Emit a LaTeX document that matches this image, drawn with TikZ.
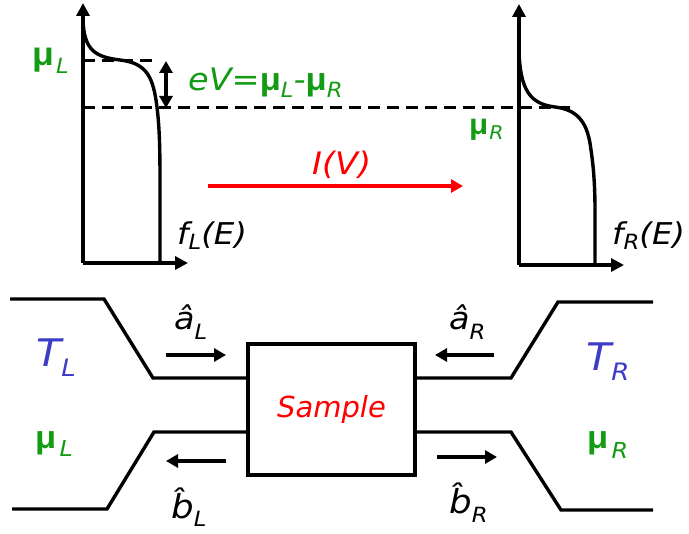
\documentclass[tikz,border=0pt]{standalone}
\usepackage{fontspec}
\setmainfont{DejaVu Sans}
\newfontfamily\mufont{Liberation Sans}
\usetikzlibrary{arrows.meta}
\definecolor{grn}{RGB}{20,155,20}
\definecolor{blu}{RGB}{60,60,200}
\newcommand\fs[1]{\fontsize{#1}{#1}\selectfont}
\newcommand\mub[1]{{\mufont\bfseries\fs{#1}μ}}
\newcommand\sbs[3]{\raisebox{-#1pt}{\fs{#2}\itshape #3}}
\begin{document}
\begin{tikzpicture}[x=1pt,y=-1pt,
  ax/.style={line width=3.4pt,-{Triangle[length=13pt,width=13pt]}},
  fermi/.style={line width=3.4pt},
  dsh/.style={line width=3pt,dash pattern=on 12pt off 7pt},
  dbl/.style={line width=3.2pt,{Triangle[length=12pt,width=13pt]}-{Triangle[length=12pt,width=13pt]}},
  cur/.style={line width=3.2pt,red,-{Triangle[length=12pt,width=13pt]}},
  wire/.style={line width=3.4pt,line join=miter},
  flow/.style={line width=3.2pt,-{Triangle[length=12pt,width=13pt]}},
  lbl/.style={inner sep=0pt,anchor=base west,xscale=1.08},
  samplebox/.style={draw,line width=3.4pt,inner sep=0pt,minimum width=167pt,minimum height=131pt}]
\useasboundingbox (0,0) rectangle (689,534);
% ---- left distribution
\coordinate (oL) at (83,263);
\coordinate (yL) at (83,3);
\coordinate (xL) at (188,263);
\draw[ax] (oL) -- (yL);
\draw[ax] (oL) -- (xL);
\draw[fermi] (83,20) .. controls (84,50) and (95,57) .. (120,60) .. controls (145,63) and (152,75) .. (156,100) .. controls (159,120) and (160,140) .. (160,180) -- (160,263);
% ---- right distribution
\coordinate (oR) at (519,265);
\coordinate (yR) at (519,4);
\coordinate (xR) at (624,265);
\draw[ax] (oR) -- (yR);
\draw[ax] (oR) -- (xR);
\draw[fermi] (519,50) .. controls (520,90) and (530,104) .. (555,107) .. controls (580,110) and (588,125) .. (591,150) .. controls (594,170) and (595,190) .. (595,210) -- (595,265);
% ---- levels
\coordinate (muLa) at (83,61);
\coordinate (muLb) at (158,61);
\coordinate (muRa) at (83,108);
\coordinate (muRb) at (571,108);
\draw[dsh] (muLa) -- (muLb);
\draw[dsh] (muRa) -- (muRb);
\coordinate (eVa) at (166,61);
\coordinate (eVb) at (166,108);
\draw[dbl] (eVa) -- (eVb);
% ---- current arrow
\coordinate (Ia) at (208,186);
\coordinate (Ib) at (463,186);
\draw[cur] (Ia) -- (Ib);
% ---- labels (top)
\node[lbl,text=grn] (lmuL) at (32,66) {\mub{33}\hspace{2pt}\sbs{8}{21}{L}};
\node[lbl,text=grn] (leV) at (188,91) {{\itshape\fs{31}eV=}\mub{32}\sbs{7}{21}{L}{\itshape\fs{31}-}\mub{32}\sbs{7}{21}{R}};
\node[lbl,text=grn] (lmuR) at (469,135) {\mub{29}\hspace{1pt}\sbs{5}{19}{R}};
\node[lbl] (lfL) at (177,245) {\fs{30}\itshape f\sbs{5}{21}{L}(E)};
\node[lbl] (lfR) at (612,245) {\fs{30}\itshape f\sbs{5}{21}{R}(E)};
\node[lbl,text=red] (lIV) at (312,175) {\fs{31}\itshape I(V)};
% ---- sample and leads
\node[samplebox] (S) at (331.5,409.5) {\fs{29}\itshape\color{red}Sample};
\coordinate (L1a) at (10,299);
\coordinate (L1b) at (104,299);
\coordinate (L1c) at (153,378);
\coordinate (L2a) at (12,509);
\coordinate (L2b) at (107,509);
\coordinate (L2c) at (154,432);
\coordinate (R1a) at (653,302);
\coordinate (R1b) at (558,302);
\coordinate (R1c) at (511,378);
\coordinate (R2a) at (653,510);
\coordinate (R2b) at (561,510);
\coordinate (R2c) at (511,432);
\draw[wire] (L1a) -- (L1b) -- (L1c) -- (L1c -| S.west);
\draw[wire] (L2a) -- (L2b) -- (L2c) -- (L2c -| S.west);
\draw[wire] (R1a) -- (R1b) -- (R1c) -- (R1c -| S.east);
\draw[wire] (R2a) -- (R2b) -- (R2c) -- (R2c -| S.east);
% ---- flow arrows
\coordinate (aLs) at (166,355);
\coordinate (aLe) at (226,355);
\coordinate (aRs) at (494,355);
\coordinate (aRe) at (435,355);
\coordinate (bLs) at (226,461);
\coordinate (bLe) at (166,461);
\coordinate (bRs) at (437,457);
\coordinate (bRe) at (497,457);
\draw[flow] (aLs) -- (aLe);
\draw[flow] (aRs) -- (aRe);
\draw[flow] (bLs) -- (bLe);
\draw[flow] (bRs) -- (bRe);
% ---- labels (bottom)
\node[lbl,text=blu] (lTL) at (36,367) {\fs{38}\itshape T\sbs{10}{24}{L}};
\node[lbl,text=blu] (lTR) at (586,371) {\fs{38}\itshape T\sbs{10}{24}{R}};
\node[lbl,text=grn] (lmuLb) at (35,449) {\mub{32}\hspace{3pt}\sbs{8}{22}{L}};
\node[lbl,text=grn] (lmuRb) at (587,449) {\mub{32}\hspace{3pt}\sbs{10}{22}{R}};
\node[lbl] (laL) at (174,330) {\fs{31}\itshape \^{a}\sbs{10}{21}{L}};
\node[lbl] (laR) at (449,330) {\fs{31}\itshape \^{a}\sbs{10}{21}{R}};
\node[lbl] (lbL) at (171,519) {\fs{33}\itshape \^{b}\sbs{8}{21}{L}};
\node[lbl] (lbR) at (449,514) {\fs{33}\itshape \^{b}\sbs{9}{21}{R}};
\end{tikzpicture}
\end{document}
